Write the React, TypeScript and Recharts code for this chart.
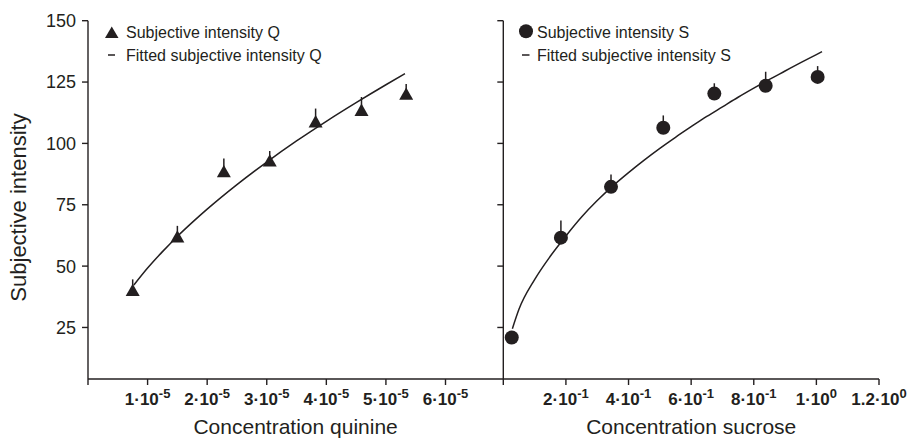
import React from 'react';
import { ComposedChart, Scatter, XAxis, YAxis, ErrorBar } from 'recharts';

// ---- Quinine panel ----
const quinineConcentration = [0.75e-5, 1.5e-5, 2.28e-5, 3.05e-5, 3.82e-5, 4.59e-5, 5.34e-5];
const quinineIntensity = [40.3, 62.1, 88.7, 93.1, 109.0, 113.7, 120.3];
const quinineError = [4.3, 4.3, 5.2, 3.8, 5.2, 5.2, 3.9];
const quinineFitConcentration = [0.77e-5, 1e-5, 1.25e-5, 1.5e-5, 1.75e-5, 2e-5, 2.5e-5, 3e-5, 3.5e-5, 4e-5, 4.5e-5, 5e-5, 5.32e-5];
const quinineFitIntensity = [42.3, 49.2, 55.9, 62.1, 67.8, 73.2, 83.2, 92.4, 101.0, 109.0, 116.6, 123.9, 128.4];
const quinineTicks = [0, 1e-5, 2e-5, 3e-5, 4e-5, 5e-5, 6e-5];
const quinineTickLabels: [string, string][] = [
  ['', ''], ['1·10', '-5'], ['2·10', '-5'], ['3·10', '-5'], ['4·10', '-5'], ['5·10', '-5'], ['6·10', '-5'],
];

// ---- Sucrose panel ----
const sucroseConcentration = [0.027, 0.184, 0.344, 0.511, 0.674, 0.838, 1.004];
const sucroseIntensity = [20.9, 61.6, 82.3, 106.4, 120.3, 123.5, 127.1];
const sucroseError = [0, 7.0, 5.0, 5.0, 4.2, 5.7, 4.4];
const sucroseFitConcentration = [0.029, 0.05, 0.1, 0.15, 0.2, 0.25, 0.3, 0.35, 0.4, 0.45, 0.5, 0.55, 0.6, 0.65, 0.7, 0.75, 0.8, 0.85, 0.9, 0.95, 1.0, 1.018];
const sucroseFitIntensity = [24.5, 32.4, 44.5, 54.0, 62.3, 70.0, 76.7, 82.7, 88.1, 93.2, 98.0, 102.5, 106.8, 111.0, 114.9, 118.8, 122.5, 126.1, 129.5, 132.9, 136.2, 137.4];
const sucroseTicks = [0, 0.2, 0.4, 0.6, 0.8, 1.0, 1.2];
const sucroseTickLabels: [string, string][] = [
  ['', ''], ['2·10', '-1'], ['4·10', '-1'], ['6·10', '-1'], ['8·10', '-1'], ['1·10', '0'], ['1.2·10', '0'],
];

const yTicks = [25, 50, 75, 100, 125, 150];
const yLabel = 'Subjective intensity';
const quinineTitle = 'Concentration quinine';
const sucroseTitle = 'Concentration sucrose';
const legendQ = ['Subjective intensity Q', 'Fitted subjective intensity Q'];
const legendS = ['Subjective intensity S', 'Fitted subjective intensity S'];

const INK = '#231f20';
const FONT = '"Liberation Sans", Arial, Helvetica, sans-serif';

const quinineData = quinineConcentration.map((x, i) => ({ x, y: quinineIntensity[i], err: [0, quinineError[i]] }));
const quinineFit = quinineFitConcentration.map((x, i) => ({ x, y: quinineFitIntensity[i] }));
const sucroseData = sucroseConcentration.map((x, i) => ({ x, y: sucroseIntensity[i], err: [0, sucroseError[i]] }));
const sucroseFit = sucroseFitConcentration.map((x, i) => ({ x, y: sucroseFitIntensity[i] }));

const makeTick = (ticks: number[], labels: [string, string][]) => (props: any) => {
  const { x, y, payload } = props;
  let idx = -1;
  ticks.forEach((t, i) => {
    if (Math.abs(t - payload.value) < 1e-9) idx = i;
  });
  const lab = idx >= 0 ? labels[idx] : ['', ''];
  if (!lab[0]) return <g />;
  return (
    <text x={x} y={y + 18} textAnchor="middle" fontFamily={FONT} fontWeight="bold" fontSize={17} fill={INK}>
      {lab[0]}
      <tspan dy={-7} fontSize={13}>{lab[1]}</tspan>
    </text>
  );
};

// Right panel's y axis: tick marks only (no numbers)
const BareYTick = (props: any) => {
  const { x, y } = props;
  return <line x1={x} x2={x + 6} y1={y} y2={y} stroke={INK} strokeWidth={1.4} />;
};

const Triangle = (props: any) => {
  const { cx, cy } = props;
  if (cx == null || cy == null) return <g />;
  return <polygon points={`${cx - 7},${cy + 6.2} ${cx + 7},${cy + 6.2} ${cx},${cy - 6.2}`} fill={INK} />;
};

const Dot = (props: any) => {
  const { cx, cy } = props;
  if (cx == null || cy == null) return <g />;
  return <circle cx={cx} cy={cy} r={7} fill={INK} />;
};

const NoShape = () => <g />;

const axisLineStyle = { stroke: INK, strokeWidth: 1.4 };

export default function App() {
  return (
    <div style={{ position: 'absolute', left: 0, top: 0, width: 910, height: 438, background: '#fff', overflow: 'hidden' }}>
      <div style={{ position: 'absolute', left: 0, top: 0 }}>
        <ComposedChart width={510} height={438} margin={{ top: 20.7, right: 6.7, bottom: 29, left: 28 }}>
          <XAxis
            type="number"
            dataKey="x"
            domain={[0, 6.97e-5]}
            ticks={quinineTicks}
            interval={0}
            allowDataOverflow
            height={30}
            tickSize={6}
            axisLine={axisLineStyle}
            tickLine={axisLineStyle}
            tick={makeTick(quinineTicks, quinineTickLabels)}
          />
          <YAxis
            type="number"
            dataKey="y"
            domain={[4, 150]}
            ticks={yTicks}
            interval={0}
            allowDataOverflow
            width={60}
            tickSize={6}
            tickMargin={6}
            axisLine={axisLineStyle}
            tickLine={axisLineStyle}
            tick={{ fontSize: 18, fill: INK, fontFamily: FONT }}
          />
          <Scatter
            data={quinineFit}
            shape={NoShape}
            line={{ stroke: INK, strokeWidth: 1.5 }}
            lineJointType="monotoneX"
            isAnimationActive={false}
          />
          <Scatter data={quinineData} shape={Triangle} isAnimationActive={false}>
            <ErrorBar dataKey="err" direction="y" width={0} stroke={INK} strokeWidth={1.5} isAnimationActive={false} />
          </Scatter>
        </ComposedChart>
      </div>
      <div style={{ position: 'absolute', left: 440, top: 0 }}>
        <ComposedChart width={470} height={438} margin={{ top: 20.7, right: 31, bottom: 29, left: 0 }}>
          <XAxis
            type="number"
            dataKey="x"
            domain={[0, 1.2]}
            ticks={sucroseTicks}
            interval={0}
            allowDataOverflow
            height={30}
            tickSize={6}
            axisLine={axisLineStyle}
            tickLine={axisLineStyle}
            tick={makeTick(sucroseTicks, sucroseTickLabels)}
          />
          <YAxis
            type="number"
            dataKey="y"
            domain={[4, 150]}
            ticks={yTicks}
            interval={0}
            allowDataOverflow
            width={63.3}
            tickSize={0}
            tickMargin={6}
            axisLine={axisLineStyle}
            tickLine={false}
            tick={BareYTick}
          />
          <Scatter
            data={sucroseFit}
            shape={NoShape}
            line={{ stroke: INK, strokeWidth: 1.5 }}
            lineJointType="monotoneX"
            isAnimationActive={false}
          />
          <Scatter data={sucroseData} shape={Dot} isAnimationActive={false}>
            <ErrorBar dataKey="err" direction="y" width={0} stroke={INK} strokeWidth={1.5} isAnimationActive={false} />
          </Scatter>
        </ComposedChart>
      </div>
      <svg width={910} height={438} style={{ position: 'absolute', left: 0, top: 0, pointerEvents: 'none' }}>
        <g fontFamily={FONT} fill={INK}>
          <text x={25.5} y={207.5} fontSize={22} textAnchor="middle" transform="rotate(-90, 25.5, 207.5)">{yLabel}</text>
          <text x={295.6} y={433.5} fontSize={21} textAnchor="middle">{quinineTitle}</text>
          <text x={691.2} y={433.5} fontSize={21} textAnchor="middle">{sucroseTitle}</text>

          <polygon points="105,38 118.5,38 111.75,26.5" fill={INK} />
          <text x={126} y={37.5} fontSize={16}>{legendQ[0]}</text>
          <line x1={108} x2={115} y1={55} y2={55} stroke={INK} strokeWidth={1.5} />
          <text x={126} y={60.5} fontSize={16}>{legendQ[1]}</text>

          <circle cx={526} cy={31.3} r={7} fill={INK} />
          <text x={537} y={37.5} fontSize={16}>{legendS[0]}</text>
          <line x1={522} x2={529.5} y1={55} y2={55} stroke={INK} strokeWidth={1.5} />
          <text x={537} y={60.5} fontSize={16}>{legendS[1]}</text>
        </g>
      </svg>
    </div>
  );
}
